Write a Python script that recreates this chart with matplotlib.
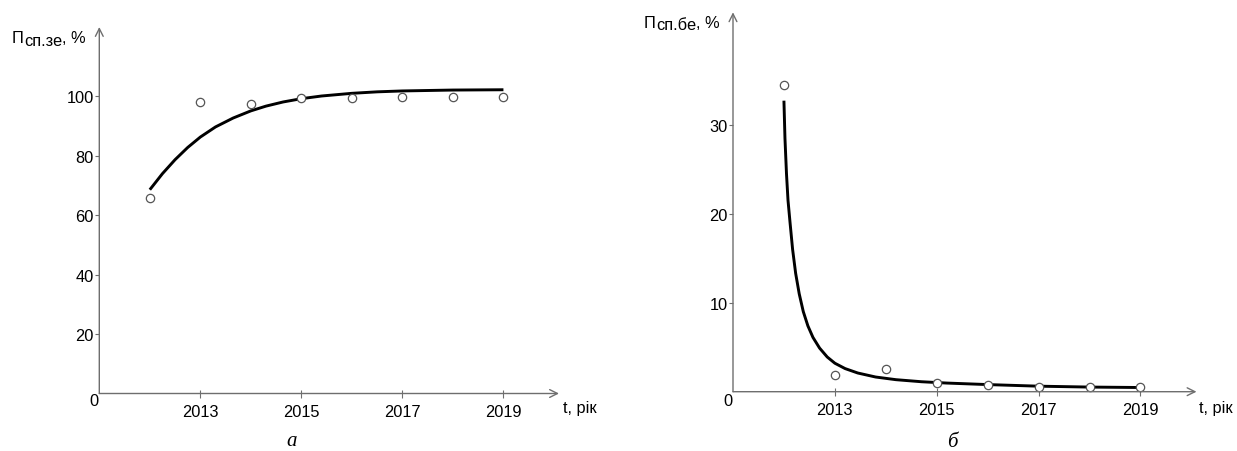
import matplotlib
matplotlib.use("Agg")
import matplotlib.pyplot as plt

plt.rcParams['font.family'] = ['Liberation Sans', 'DejaVu Sans']

# ---- data ----
years = [2012, 2013, 2014, 2015, 2016, 2017, 2018, 2019]
ze_points = [65.7, 98.1, 97.3, 99.3, 99.2, 99.6, 99.6, 99.6]
be_points = [34.5, 1.9, 2.5, 0.94, 0.8, 0.5, 0.55, 0.52]

ze_curve_t = [2012.0, 2012.25, 2012.5, 2012.75, 2013.0, 2013.3, 2013.65, 2014.0,
              2014.3, 2014.64, 2015.0, 2015.4, 2016.0, 2016.5, 2017.0, 2018.0, 2019.0]
ze_curve_v = [68.5, 73.9, 78.6, 82.7, 86.2, 89.6, 92.6, 95.0,
              96.6, 98.0, 99.1, 100.0, 100.9, 101.4, 101.7, 102.0, 102.1]

be_curve_t = [2012.0, 2012.02, 2012.05, 2012.08, 2012.12, 2012.17, 2012.23, 2012.30,
              2012.38, 2012.47, 2012.57, 2012.70, 2012.85, 2013.0, 2013.2, 2013.45,
              2013.8, 2014.2, 2014.7, 2015.2, 2016.0, 2017.0, 2018.0, 2019.0]
be_curve_v = [32.7, 28.5, 24.5, 21.5, 19.0, 16.0, 13.3, 11.0,
              9.0, 7.4, 6.1, 4.9, 3.9, 3.2, 2.6, 2.1,
              1.65, 1.35, 1.12, 0.97, 0.8, 0.62, 0.52, 0.47]

xticks = [2013, 2015, 2017, 2019]
ze_yticks = [20, 40, 60, 80, 100]
be_yticks = [10, 20, 30]

W, H = 1237, 452
fig = plt.figure(figsize=(W / 100, H / 100), dpi=100)


def fx(px):
    return px / W


def fy(py):
    return 1 - py / H


axis_col = '#6e6e6e'
FS = 11.8


def setup(ax, yticks, ymax, x0px, y0px, lbl_parts, lbl_pos, tlabel_px):
    ax.set_xlim(2011, 2020.1)
    ax.set_ylim(0, ymax)
    for s in ax.spines.values():
        s.set_visible(False)
    ax.annotate('', xy=(1, 0), xytext=(0, 0), xycoords='axes fraction',
                arrowprops=dict(arrowstyle='->', color=axis_col, lw=1.0,
                                shrinkA=0, shrinkB=0, mutation_scale=14))
    ax.annotate('', xy=(0, 1), xytext=(0, 0), xycoords='axes fraction',
                arrowprops=dict(arrowstyle='->', color=axis_col, lw=1.0,
                                shrinkA=0, shrinkB=0, mutation_scale=14))
    ax.set_xticks(xticks)
    ax.set_xticklabels([str(v) for v in xticks])
    ax.set_yticks(yticks)
    ax.set_yticklabels([str(v) for v in yticks])
    ax.tick_params(axis='x', direction='inout', length=6, width=0.8,
                   color=axis_col, labelsize=FS, pad=4.5)
    ax.tick_params(axis='y', direction='out', length=3, width=0.8,
                   color=axis_col, labelsize=FS, pad=1)
    # "0" at origin
    fig.text(fx(x0px), fy(y0px), '0', fontsize=FS, ha='center', va='center')
    # axis label
    lx, ly = lbl_pos
    t1 = fig.text(fx(lx), fy(ly), lbl_parts[0], fontsize=FS, ha='left', va='baseline')
    t2 = ax.annotate(lbl_parts[1], xy=(1, 0), xycoords=t1, xytext=(0.3, -1.8),
                     textcoords='offset points', fontsize=FS, ha='left', va='bottom',
                     annotation_clip=False)
    ax.annotate(lbl_parts[2], xy=(1, 0), xycoords=t2, xytext=(0, 1.8),
                textcoords='offset points', fontsize=FS, ha='left', va='bottom',
                annotation_clip=False)
    fig.text(fx(tlabel_px[0]), fy(tlabel_px[1]), 't, рік', fontsize=FS,
             ha='left', va='center')


# left panel
axL = fig.add_axes([fx(99.3), fy(394.5), fx(559.0 - 99.3), (394.5 - 28) / H])
axL.plot(ze_curve_t, ze_curve_v, color='black', lw=2.1, zorder=2,
         solid_capstyle='butt', solid_joinstyle='round')
axL.plot(years, ze_points, 'o', ms=6, mfc='white', mec='#555555', mew=0.9,
         zorder=3, clip_on=False)
setup(axL, ze_yticks, (394.5 - 28) / 2.975, 94.3, 402, ('П', 'сп.зе', ', %'),
      (12.0, 43), (563, 409))
fig.text(fx(292), fy(446), 'а', fontsize=15, family=['Liberation Serif'],
         style='italic', ha='center', va='baseline')

# right panel
axR = fig.add_axes([fx(733.0), fy(392.7), fx(1196.5 - 733.0), (392.7 - 13.3) / H])
axR.plot(be_curve_t, be_curve_v, color='black', lw=2.1, zorder=2,
         solid_capstyle='butt', solid_joinstyle='round')
axR.plot(years, be_points, 'o', ms=6, mfc='white', mec='#555555', mew=0.9,
         zorder=3, clip_on=False)
setup(axR, be_yticks, (392.7 - 13.3) / 8.9, 727.7, 401.7, ('П', 'сп.бе', ', %'),
      (644, 28), (1199, 409))
fig.text(fx(952), fy(447), 'б', fontsize=15, family=['Liberation Serif'],
         style='italic', ha='center', va='baseline')

fig.savefig('out.png', dpi=100)
